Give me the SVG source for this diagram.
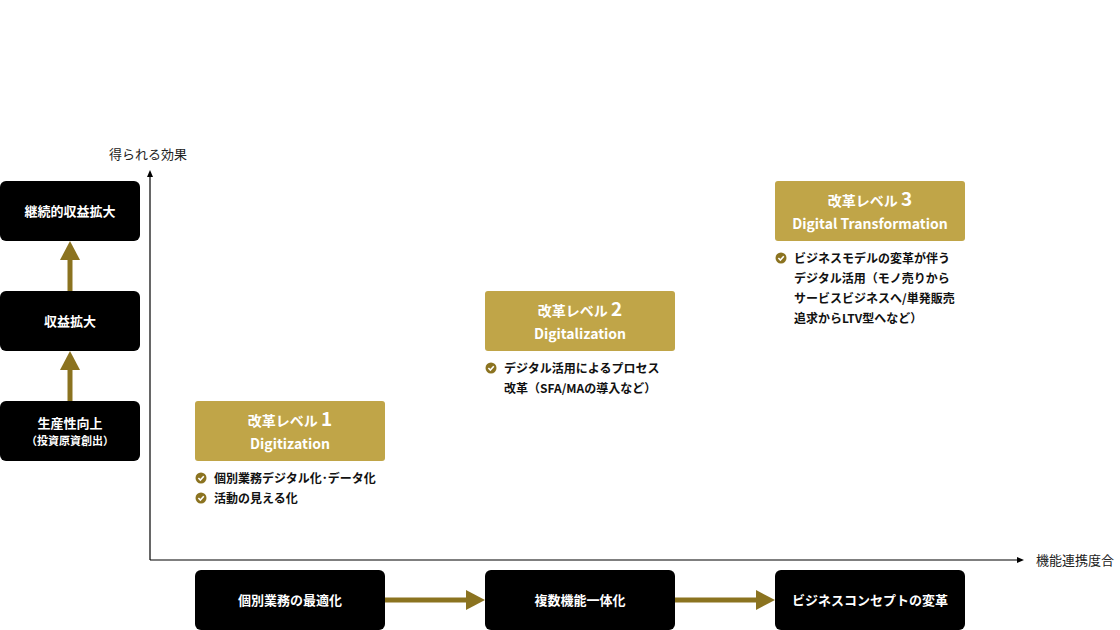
<svg xmlns="http://www.w3.org/2000/svg" width="1120" height="630" viewBox="0 0 1120 630">
<style>
text{font-family:"Noto Sans CJK JP","Noto Sans",sans-serif;}
.bk{fill:#000;}
.bt{fill:#fff;font-size:13px;font-weight:bold;text-anchor:middle;}
.gd{fill:#C0A548;}
.gt{fill:#fff;font-size:14px;font-weight:bold;text-anchor:middle;}
.it{fill:#111;font-size:12px;font-weight:bold;}
.lb{fill:#222;font-size:13px;}
.ax{stroke:#000;stroke-width:1.2;fill:none;}
.ar{stroke:#8B7320;stroke-width:5;fill:none;}
.ck{fill:#8B7320;}
</style>
<defs>
<marker id="ah" markerWidth="8" markerHeight="8" refX="4" refY="4" orient="auto" markerUnits="userSpaceOnUse"><path d="M0,1 L7,4 L0,7 Z" fill="#000"/></marker>
<g id="chk"><circle cx="0" cy="0" r="5.5" class="ck"/><path d="M-2.6,0 L-0.6,2 L2.8,-1.8" stroke="#fff" stroke-width="1.6" fill="none"/></g>
</defs>
<g id="connectors">
<path class="ax" d="M150,560 V173" marker-end="url(#ah)"/>
<path class="ax" d="M150,560 H1021" marker-end="url(#ah)"/>
<path class="ar" d="M70,401 V368"/><path d="M60,370 L70,351 L80,370 Z" fill="#8B7320"/>
<path class="ar" d="M70,291 V258"/><path d="M60,260 L70,241 L80,260 Z" fill="#8B7320"/>
<path class="ar" d="M385,600 H468"/><path d="M466,590 L485,600 L466,610 Z" fill="#8B7320"/>
<path class="ar" d="M675,600 H758"/><path d="M756,590 L775,600 L756,610 Z" fill="#8B7320"/>
</g>
<text class="lb" x="148" y="159" text-anchor="middle">得られる効果</text>
<text class="lb" x="1036" y="565">機能連携度合</text>
<g id="n1"><rect class="bk" x="0" y="181" width="140" height="60" rx="6"/><text class="bt" x="70" y="216">継続的収益拡大</text></g>
<g id="n2"><rect class="bk" x="0" y="291" width="140" height="60" rx="6"/><text class="bt" x="70" y="326">収益拡大</text></g>
<g id="n3"><rect class="bk" x="0" y="401" width="140" height="60" rx="6"/><text class="bt" x="70" y="428">生産性向上</text><text class="bt" x="70" y="445" style="font-size:11px">（投資原資創出）</text></g>
<g id="b1"><rect class="bk" x="195" y="570" width="190" height="60" rx="6"/><text class="bt" x="290" y="605">個別業務の最適化</text></g>
<g id="b2"><rect class="bk" x="485" y="570" width="190" height="60" rx="6"/><text class="bt" x="580" y="605">複数機能一体化</text></g>
<g id="b3"><rect class="bk" x="775" y="570" width="190" height="60" rx="6"/><text class="bt" x="870" y="605">ビジネスコンセプトの変革</text></g>
<g id="l1"><rect class="gd" x="195" y="401" width="190" height="60" rx="3"/>
<text class="gt" x="290" y="426">改革レベル <tspan style="font-size:19px">1</tspan></text><text class="gt" x="290" y="449">Digitization</text>
<use href="#chk" x="201" y="478"/><text class="it" x="214" y="483">個別業務デジタル化･データ化</text>
<use href="#chk" x="201" y="498"/><text class="it" x="214" y="503">活動の見える化</text></g>
<g id="l2"><rect class="gd" x="485" y="291" width="190" height="60" rx="3"/>
<text class="gt" x="580" y="316">改革レベル <tspan style="font-size:19px">2</tspan></text><text class="gt" x="580" y="339">Digitalization</text>
<use href="#chk" x="491" y="368"/><text class="it" x="504" y="373">デジタル活用によるプロセス</text>
<text class="it" x="504" y="393">改革（SFA/MAの導入など）</text></g>
<g id="l3"><rect class="gd" x="775" y="181" width="190" height="60" rx="3"/>
<text class="gt" x="870" y="206">改革レベル <tspan style="font-size:19px">3</tspan></text><text class="gt" x="870" y="229">Digital Transformation</text>
<use href="#chk" x="781" y="258"/><text class="it" x="794" y="263">ビジネスモデルの変革が伴う</text>
<text class="it" x="794" y="283">デジタル活用（モノ売りから</text>
<text class="it" x="794" y="303">サービスビジネスへ/単発販売</text>
<text class="it" x="794" y="323">追求からLTV型へなど）</text></g>
</svg>
